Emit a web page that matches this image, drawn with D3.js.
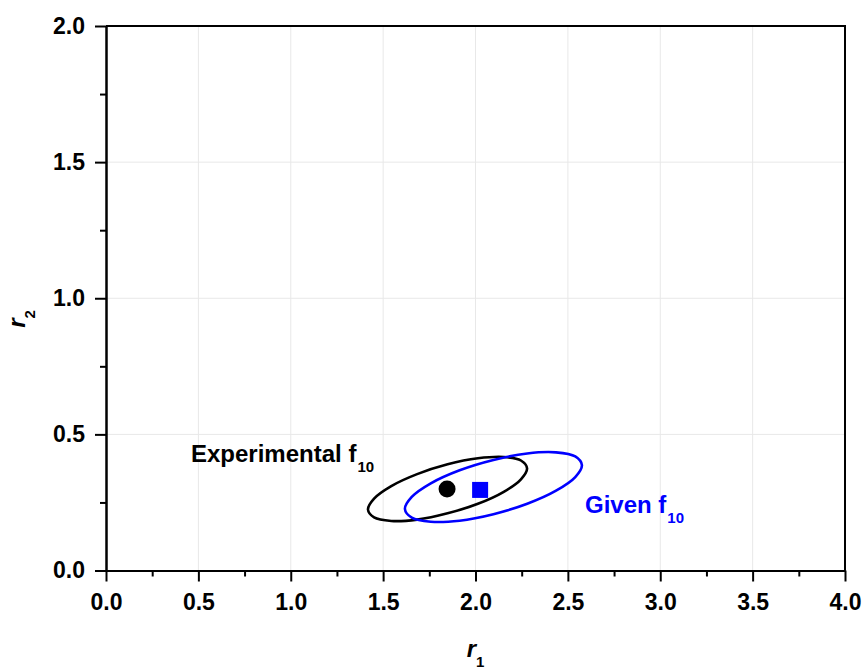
<!DOCTYPE html>
<html lang="en">
<head>
    <meta charset="UTF-8">
    <title>r1 vs r2 confidence regions</title>
    <style>
        body {
            margin: 0;
            padding: 0;
            background: #fff;
            font-family: "Liberation Sans", Arial, sans-serif;
        }

        .grid line {
            stroke: #e8e8e8;
            stroke-width: 1px;
        }

        .axis path,
        .axis line {
            stroke: #000;
            stroke-width: 2px;
        }

        .axis text {
            font-family: "Liberation Sans", Arial, sans-serif;
            font-size: 23px;
            font-weight: bold;
            fill: #000;
        }

        .label {
            font-family: "Liberation Sans", Arial, sans-serif;
            font-weight: bold;
            font-size: 24px;
        }
    </style>
    <script src="https://d3js.org/d3.v7.min.js"></script>
</head>
<body>
    <div id="chart"></div>

    <script>
        // axis ticks
        const majorX = [0, 0.5, 1.0, 1.5, 2.0, 2.5, 3.0, 3.5, 4.0];
        const minorX = [0.25, 0.75, 1.25, 1.75, 2.25, 2.75, 3.25, 3.75];
        const majorY = [0, 0.5, 1.0, 1.5, 2.0];
        const minorY = [0.25, 0.75, 1.25, 1.75];

        // point estimates (r1, r2)
        const experimentalPoint = [1.846, 0.299];
        const givenPoint = [2.025, 0.296];

        // confidence contours (r1, r2)
        const experimentalContour = [
            [2.279, 0.375], [2.246, 0.404], [2.153, 0.417], [2.013, 0.412],
            [1.849, 0.390], [1.684, 0.354], [1.544, 0.310], [1.451, 0.264],
            [1.418, 0.224], [1.451, 0.195], [1.544, 0.182], [1.684, 0.187],
            [1.849, 0.210], [2.013, 0.245], [2.153, 0.289], [2.246, 0.335]
        ];
        const givenContour = [
            [2.576, 0.387], [2.540, 0.419], [2.436, 0.434], [2.280, 0.430],
            [2.097, 0.406], [1.914, 0.368], [1.758, 0.320], [1.655, 0.270],
            [1.618, 0.226], [1.655, 0.194], [1.758, 0.179], [1.914, 0.183],
            [2.097, 0.207], [2.280, 0.245], [2.436, 0.293], [2.540, 0.343]
        ];

        const width = 867, height = 669;
        const mLeft = 106, mRight = 845, mTop = 26, mBottom = 570.5;
        const blue = '#0000ff';

        const svg = d3.select('#chart')
            .append('svg')
            .attr('width', width)
            .attr('height', height);

        svg.append('rect')
            .attr('width', width)
            .attr('height', height)
            .attr('fill', '#fff');

        const x = d3.scaleLinear().domain([0, 4]).range([mLeft, mRight]);
        const y = d3.scaleLinear().domain([0, 2]).range([mBottom, mTop]);

        // grid lines
        const grid = svg.append('g').attr('class', 'grid');
        grid.selectAll('.gx')
            .data(majorX.filter(d => d > 0 && d < 4))
            .enter().append('line')
            .attr('x1', d => x(d)).attr('x2', d => x(d))
            .attr('y1', mTop).attr('y2', mBottom);
        grid.selectAll('.gy')
            .data(majorY.filter(d => d > 0 && d < 2))
            .enter().append('line')
            .attr('y1', d => y(d)).attr('y2', d => y(d))
            .attr('x1', mLeft).attr('x2', mRight);

        // frame top + right
        svg.append('path')
            .attr('d', `M${mLeft},${mTop}H${mRight}V${mBottom}`)
            .attr('fill', 'none')
            .attr('stroke', '#000')
            .attr('stroke-width', 2);

        // x axis
        svg.append('g')
            .attr('class', 'axis')
            .attr('transform', `translate(0,${mBottom})`)
            .call(d3.axisBottom(x).tickValues(minorX).tickSize(6).tickSizeOuter(0).tickFormat(''));
        svg.append('g')
            .attr('class', 'axis')
            .attr('transform', `translate(0,${mBottom})`)
            .call(d3.axisBottom(x).tickValues(majorX).tickSize(11).tickSizeOuter(0)
                .tickPadding(12).tickFormat(d3.format('.1f')));

        // y axis
        svg.append('g')
            .attr('class', 'axis')
            .attr('transform', `translate(${mLeft},0)`)
            .call(d3.axisLeft(y).tickValues(minorY).tickSize(6).tickSizeOuter(0).tickFormat(''));
        svg.append('g')
            .attr('class', 'axis')
            .attr('transform', `translate(${mLeft},0)`)
            .call(d3.axisLeft(y).tickValues(majorY).tickSize(11).tickSizeOuter(0)
                .tickPadding(10).tickFormat(d3.format('.1f')));

        // contours
        const contour = d3.line()
            .x(d => x(d[0]))
            .y(d => y(d[1]))
            .curve(d3.curveCatmullRomClosed);

        svg.append('path')
            .datum(experimentalContour)
            .attr('d', contour)
            .attr('fill', 'none')
            .attr('stroke', '#000')
            .attr('stroke-width', 2.6);

        svg.append('path')
            .datum(givenContour)
            .attr('d', contour)
            .attr('fill', 'none')
            .attr('stroke', blue)
            .attr('stroke-width', 2.6);

        // points
        svg.append('circle')
            .attr('cx', x(experimentalPoint[0]))
            .attr('cy', y(experimentalPoint[1]))
            .attr('r', 8.5)
            .attr('fill', '#000');

        svg.append('rect')
            .attr('x', x(givenPoint[0]) - 8)
            .attr('y', y(givenPoint[1]) - 8)
            .attr('width', 16)
            .attr('height', 16)
            .attr('fill', blue);

        // annotations
        const exp = svg.append('text')
            .attr('class', 'label')
            .attr('x', 191)
            .attr('y', 462)
            .attr('fill', '#000');
        exp.append('tspan').text('Experimental f');
        exp.append('tspan').attr('font-size', 15).attr('dy', 10).attr('dx', 1).text('10');

        const giv = svg.append('text')
            .attr('class', 'label')
            .attr('x', 585)
            .attr('y', 513)
            .attr('fill', blue);
        giv.append('tspan').text('Given f');
        giv.append('tspan').attr('font-size', 15).attr('dy', 10).attr('dx', 1).text('10');

        // axis titles
        const xt = svg.append('text')
            .attr('class', 'label')
            .attr('x', (mLeft + mRight) / 2)
            .attr('y', 657)
            .attr('text-anchor', 'middle')
            .attr('font-size', 28)
            .attr('font-style', 'italic');
        xt.append('tspan').text('r');
        xt.append('tspan').attr('font-size', 15).attr('font-style', 'normal').attr('dy', 10).text('1');

        const yt = svg.append('text')
            .attr('class', 'label')
            .attr('transform', 'translate(25,319) rotate(-90)')
            .attr('text-anchor', 'middle')
            .attr('font-size', 28)
            .attr('font-style', 'italic');
        yt.append('tspan').text('r');
        yt.append('tspan').attr('font-size', 15).attr('font-style', 'normal').attr('dy', 10).text('2');
    </script>
</body>
</html>
